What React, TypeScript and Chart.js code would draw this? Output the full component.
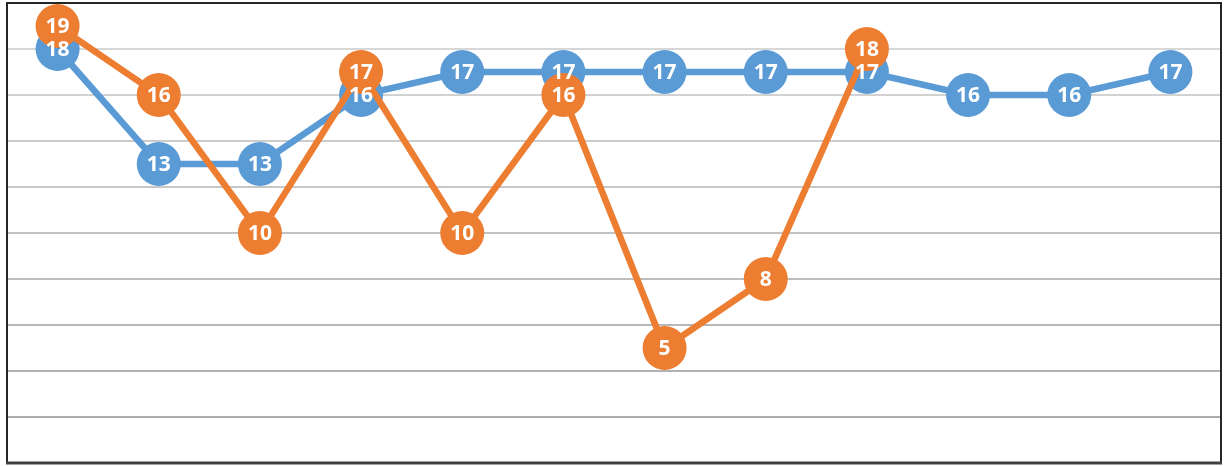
import React, { useEffect, useRef } from "react";
import { Chart, registerables } from "chart.js";

Chart.register(...registerables);

// Category slots along the x axis (not drawn as text)
const categories: string[] = ["1", "2", "3", "4", "5", "6", "7", "8", "9", "10", "11", "12"];

// Series values
const blueValues: number[] = [18, 13, 13, 16, 17, 17, 17, 17, 17, 16, 16, 17];
const orangeValues: number[] = [19, 16, 10, 17, 10, 16, 5, 8, 18];

const yMin = 0;
const yMax = 20;
const yStep = 2;

const BLUE = "#5B9BD5";
const ORANGE = "#ED7D31";

// Draws the white value labels on top of every marker, after all series are drawn
const valueLabels = {
  id: "valueLabels",
  afterDatasetsDraw(chart: any) {
    const ctx = chart.ctx;
    ctx.save();
    ctx.fillStyle = "#ffffff";
    ctx.font = "bold 21px 'Open Sans', sans-serif";
    ctx.textAlign = "center";
    ctx.textBaseline = "middle";
    chart.data.datasets.forEach((ds: any, i: number) => {
      const meta = chart.getDatasetMeta(i);
      meta.data.forEach((pt: any, j: number) => {
        const v = ds.data[j];
        if (v === null || v === undefined) return;
        ctx.fillText(String(v), pt.x, pt.y + 1);
      });
    });
    ctx.restore();
  },
};

// Dark frame around the plot area
const frame = {
  id: "frame",
  afterDraw(chart: any) {
    const { ctx, chartArea } = chart;
    const { left, right, top, bottom } = chartArea;
    ctx.save();
    ctx.strokeStyle = "#262626";
    ctx.lineWidth = 2;
    ctx.beginPath();
    ctx.moveTo(left, bottom);
    ctx.lineTo(left, top);
    ctx.lineTo(right, top);
    ctx.lineTo(right, bottom);
    ctx.stroke();
    ctx.strokeStyle = "#404040";
    ctx.lineWidth = 3;
    ctx.beginPath();
    ctx.moveTo(left - 1, bottom);
    ctx.lineTo(right + 1, bottom);
    ctx.stroke();
    ctx.restore();
  },
};

function gridColor(value: number): string {
  // lighter near the top, darker toward the bottom
  const t = (value - yMin) / (yMax - yMin);
  const c = Math.round(0xa8 + (0xdc - 0xa8) * t);
  return `rgb(${c},${c},${c})`;
}

export default function App() {
  const canvasRef = useRef<HTMLCanvasElement | null>(null);

  useEffect(() => {
    const canvas = canvasRef.current;
    if (!canvas) return;
    const chart = new Chart(canvas, {
      type: "line",
      data: {
        labels: categories,
        datasets: [
          {
            label: "A",
            data: blueValues,
            borderColor: BLUE,
            backgroundColor: BLUE,
            pointBackgroundColor: BLUE,
            pointBorderColor: BLUE,
            borderWidth: 6.5,
            pointRadius: 22,
            pointHoverRadius: 22,
            pointBorderWidth: 0,
            tension: 0,
            clip: false as any,
            order: 2,
          },
          {
            label: "B",
            data: orangeValues,
            borderColor: ORANGE,
            backgroundColor: ORANGE,
            pointBackgroundColor: ORANGE,
            pointBorderColor: ORANGE,
            borderWidth: 6.5,
            pointRadius: 22,
            pointHoverRadius: 22,
            pointBorderWidth: 0,
            tension: 0,
            clip: false as any,
            order: 1,
          },
        ],
      },
      options: {
        animation: false,
        responsive: false,
        maintainAspectRatio: false,
        layout: { autoPadding: false, padding: { left: 7, right: 4, top: 3, bottom: 3 } },
        plugins: {
          legend: { display: false },
          tooltip: { enabled: false },
        },
        scales: {
          x: {
            type: "category",
            offset: true,
            grid: { display: false, drawTicks: false },
            border: { display: false },
            ticks: { display: false },
          },
          y: {
            min: yMin,
            max: yMax,
            ticks: { display: false, stepSize: yStep },
            border: { display: false },
            grid: {
              drawTicks: false,
              lineWidth: 2,
              color: (ctx: any) => gridColor(ctx.tick ? ctx.tick.value : 0),
            },
          },
        },
      } as any,
      plugins: [valueLabels, frame],
    });
    return () => chart.destroy();
  }, []);

  return (
    <div style={{ position: "fixed", left: 0, top: 0, width: 1225, height: 466, background: "#ffffff" }}>
      <canvas ref={canvasRef} width={1225} height={466} style={{ display: "block" }} />
    </div>
  );
}
